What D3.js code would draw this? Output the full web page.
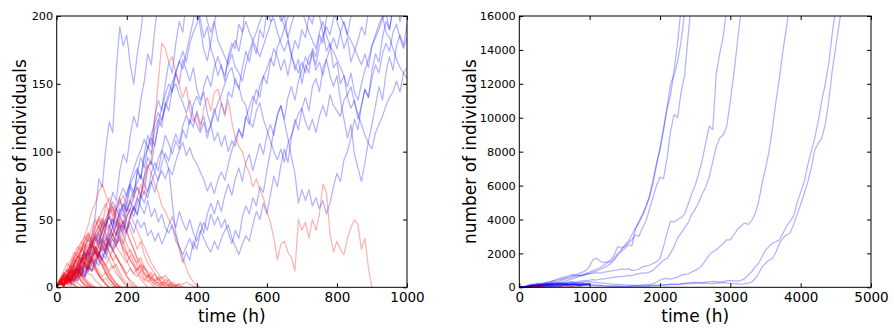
<!DOCTYPE html>
<html><head><meta charset="utf-8">
<script src="https://cdn.jsdelivr.net/npm/d3@7"></script>
<style>body{margin:0;background:#fff} svg{display:block}</style>
</head><body>
<svg id="c" width="894" height="329"></svg>
<script>
// ---------- DATA ----------
// Left panel: samples every 10 h (value = number of individuals)
const stepShort = 10;
// surviving lineages (blue)
const blue1 = [1,5,3,9,6,14,11,20,28,23,38,52,80,74,102,122,114,160,192,178,186,164,150,172,188,210,236,250];
const blue2 = [1,4,2,8,5,13,9,18,25,20,31,38,33,48,42,58,70,64,86,98,92,112,126,118,138,152,172,164,190,212,236];
const blue3 = [1,3,2,6,4,9,13,8,16,12,20,27,22,31,26,36,45,38,52,47,60,74,66,86,80,98,112,104,126,138,130,150,166,158,180,196,188,212,230,220,206,198,184,192,176,168,156,164,152,170,180,176,194,188,210,232,250];
const blue4 = [1,4,2,7,4,10,7,14,19,13,24, 30,24,36,30,42,50,44,58,52,64, 76,70,84,96,88,104,98,116,124,118, 136,130,146,158,150,168,160,152,162,146, 138,144,128,120,132,122,136,128,144,140, 154,146,162,174,166,180,172,190,184,204, 214,222,206,196,200,184,172,160,168,150, 164,158,176,170,186,180,198,212,206,196, 188,176,184,166,174,182,192,186,204,220, 232,244];
const blue5 = [1,3,1,5,3,8,5,11,8,15,12, 20,16,25,21,30,36,30,40,46,40, 52,60,54,68,76,70,84,92,86,100, 112,106,98,108,102,116,110,124,118,130, 120,126,114,120,108,114,104,112,100,108, 104,116,110,126,120,136,146,140,156,150, 166,176,170,160,168,156,170,182,176,190, 184,200,194,210,200,188,174,180,162,166, 150,156,140,132,138,124,134,146,140,154, 164,158,172,180,174,188,194,184,176,184];
const blue6 = [1,4,2,7,4,10,14,9,18,14,22, 28,22,34,28,38,44,38,48,42,52, 58,52,62,68,62,72,78,70,80,86, 80,88,62,40,28,18,26,20,34,28, 40,48,42,54,46,52,44,50,40,32, 42,36,52,60,54,66,60,74,70,86, 100,116,126,134,122,110,96,84,62,72, 64,72,60,66,58,64,54,62,74,84, 78,94,100,110,124,116,134,146,140,160, 172,166,184,196,190,206,214,222,232,242];
const blue7 = [1,3,1,5,8,4,10,14,9,16,20, 15,24,20,28,34,26,32,38,32,42, 48,40,50,44,48,38,42,34,40,32, 38,46,52,44,56,48,42,50,40,34, 42,36,30,26,34,28,36,42,46,36, 30,24,32,38,34,46,56,50,62,54, 68,82,74,90,102,92,110,124,116,132, 140,130,148,154,144,162,168,156,148,156, 138,124,110,120,98,88,78,92,108,120, 134,148,138,158,170,160,178,186,178,194];
const blue8 = [1,5,3,9,13,8,16,22,17,28,24, 34,40,32,46,52,44,58,52,62,56, 64,56,66,60,54,64,52,58,48,54, 44,40,46,34,30,24,30,36,28,40, 48,40,54,62,54,64,56,68,76,68, 80,88,78,92,98,86,96,106,98,112, 120,112,128,134,124,140,148,138,152,160, 170,164,172,160,166,156,168,176,184,176, 188,196,186,200,214,206,222,234,242,252];
const blue9 = [1,4,8,4,11,16,11,21,26,20,31, 37,31,42,47,52,45,58,64,56,70, 76,82,88,80,96,102,110,104,122,132, 142,150,144,158,166,174,166,180,188,194, 202,210,196,188,196,182,176,170,164,172, 162,158,152,164,174,182,188,196,202,208, 196,198,188,180,174,182,170,164,158,166, 158,170,174,164,178,186,192,186,198,206, 200,194,186,182,176,170,164,172,162,178, 184,190,198,202,190,206,212,196,206,214];
const blue10 = [1,3,1,4,7,4,9,13,8,16,12, 20,26,20,30,36,29,40,46,40,52, 58,66,74,68,82,96,90,106,118,124, 132,140,146,150,142,136,128,138,126,120, 114,122,110,120,128,136,142,150,158,162, 150,148,138,134,122,118,130,136,124,116, 108,100,94,102,92,106,112,120,128,132, 122,116,124,114,126,134,126,142,134,130, 126,138,142,148,136,128,120,112,106,102, 114,120,126,134,140,144,152,144,158,162];
const blue11 = [1,4,2,6,9,5,12,15,11,18,22, 17,25,29,24,34,39,33,43,49,43, 53,59,53,65,71,66,77,85,79,91, 99,93,105,113,106,119,127,120,135,141, 134,148,156,148,162,170,162,156,168,176, 182,174,188,196,188,182,176,170,178,186, 194,202,210,200,192,184,194,202,214,204, 196,188,182,176,188,196,186,178,174,168, 162,156,148,158,144,138,150,160,168,178, 186,194,200,188,184,176,168,162,158,154];
const blue12 = [1,5,9,13,9,17,23,18,29,35,29,39,45,51,45,56,63,57,67,73,67,79,87,95,101,109,103,113,121,129,123,135,143,151,159,167,161,173,185,197,211,191,175,167,181,195,207,219,232];
const blue13 = [1,3,6,9,5,12,16,11,20,25,31, 26,35,41,35,45,51,46,56,61,56, 65,71,77,83,76,89,93,85,95,101, 95,87,83,93,101,107,97,103,95,91, 85,79,71,77,69,79,85,79,91,101, 109,117,111,125,133,141,135,149,155,161, 169,163,177,183,191,199,207,215,227,239];

// extinct lineages (red)
const red1 = [1,4,2,7,5,10,8,14,18,14,22,19,27,32,26,36,40,34,44,48,42,52,58,66,76,68,88,94,124,152,180,176,166,170,158,148,140,148,130,122,128,116,132,140,130,144,146,136,126,138,122,110,104,100,90,84,74,80,72,66,56,48,36,20,32,34,26,22,12,50,42,48,36,50,42,54,76,70,40,26,34,28,24,36,44,50,46,28,36,14,0];
const red2 = [1,3,6,3,8,12,8,14,19,15,23,27,22,31,36,30,40,45,50,44,56,62,68,74,66,82,90,84,76,70,60,56,50,44,38,30,22,14,8,4,2,0];
const red3 = [1,4,2,7,5,10,14,9,18,24,30,36,30,42,50,58,52,62,66,56,48,42,36,28,34,24,18,14,10,5,3,0];
const red4 = [1,3,6,2,9,6,14,19,24,18,28,34,42,50,44,54,58,50,44,38,32,26,22,18,22,14,12,8,4,7,3,2,1,0];
const red5 = [1,3,1,6,3,9,13,8,15,21,16,24,30,26,34,40,35,30,26,22,18,24,18,13,17,11,7,11,5,3,1,4,2,1,0];
const red6 = [1,5,10,7,14,20,16,26,32,28,38,46,52,46,60,66,58,52,46,38,42,34,28,20,14,9,5,2,0];
const red7 = [1,4,2,7,11,8,15,20,26,22,32,40,46,40,50,44,38,32,36,26,20,14,10,14,8,5,9,4,2,1,3,6,3,2,1,2,0];
const red8 = [1,6,3,10,16,22,18,28,34,40,34,44,50,44,40,32,28,22,18,12,8,5,3,0];
const red9 = [1,4,2,8,5,12,18,14,22,26,20,30,24,20,16,12,16,10,7,4,2,0];
const red10 = [1,5,2,9,14,10,18,14,16,10,9,5,3,0];
const red11 = [1,3,1,4,2,6,8,4,2,1,0];
const red12 = [1,4,7,3,10,14,10,18,22,16,12,15,9,6,3,0];
const red13 = [1,6,3,10,16,22,26,20,30,36,32,26,20,16,10,7,3,0];
const red14 = [1,3,1,5,3,2,0];
const red15 = [1,5,2,8,12,8,14,10,7,4,2,0];
const red16 = [1,4,2,7,4,10,14,18,22,17,26,30,25,21,16,22,28,32,35,28,24,20,16,12,16,10,8,5,2,4,2,1,2,0];
const red17 = [1,3,1,4,6,9,5,11,14,18,22,26,31,36,42,46,38,48,54,46,40,34,28,22,18,14,10,6,4,2,0];
const red18 = [1,6,11,8,18,24,30,26,38,46,56,62,70,76,68,62,54,48,40,34,26,20,16,10,6,3,0];
const red19 = [1,3,6,9,5,2,6,10,7,12,16,12,9,5,7,3,1,0];
const red20 = [1,3,1,0];
const red21 = [1,5,2,6,3,1,0];
const red22 = [1,3,7,4,10,8,13,18,22,26,20,16,12,8,11,6,3,1,0];
const red23 = [1,5,9,6,12,17,22,28,34,40,34,44,50,56,62,54,48,42,36,30,24,28,22,16,12,16,10,7,10,5,8,3,6,2,1,3,2,4,2,1,0];
const red24 = [1,3,6,4,9,13,10,16,22,28,34,28,40,46,38,32,28,22,18,14,10,14,10,8,12,6,4,7,5,8,4,3,1,4,2,1,0];
const red25 = [1,4,8,13,9,18,26,32,38,34,44,50,44,38,32,26,20,14,8,4,0];
const red26 = [1,3,6,3,7,5,10,15,11,17,22,26,21,17,12,9,5,2,0];
const red27 = [1,4,6,2,5,7,3,1,0];
const red28 = [1,5,3,8,12,9,15,19,24,28,32,27,22,18,14,10,6,3,1,0];
const red29 = [1,3,2,7,11,16,20,15,24,28,33,37,41,46,50,56,60,53,62,68,60,54,48,42,36,30,24,18,14,10,6,9,5,2,1,0];
const red30 = [1,4,7,3,1,6,9,5,2,0];
const red31 = [1,6,10,6,13,17,12,8,5,2,0];
const red32 = [1,3,6,9,14,18,22,27,30,25,19,14,9,5,2,0];
const red33 = [1,4,8,12,16,10,14,8,4,2,0];
const red34 = [1,3,7,10,6,12,17,21,16,12,18,22,26,20,16,11,7,3,0];
const red35 = [1,2,5,9,13,18,23,19,27,32,28,24,30,36,31,26,20,24,18,14,8,4,1,0];
const red36 = [1,5,8,4,7,11,15,10,6,3,1,0];
const red37 = [1,4,9,14,20,26,22,30,24,18,20,14,10,6,2,0];
const red38 = [1,3,6,10,7,13,9,5,1,0];
const red39 = [1,4,2,7,10,14,19,24,20,28,34,40,36,30,25,20,14,17,11,6,4,2,0];
const red40 = [1,6,12,18,14,22,28,34,30,38,34,26,20,16,10,6,3,0];

const blueShort = [blue1,blue2,blue3,blue4,blue5,blue6,blue7,blue8,blue9,blue10,blue11,blue12,blue13];
const redShort = [red1,red2,red3,red4,red5,red6,red7,red8,red9,red10,red11,red12,red13,red14,red15,red16,
  red17,red18,red19,red20,red21,red22,red23,red24,red25,red26,red27,red28,red29,red30,red31,red32,
  red33,red34,red35,red36,red37,red38,red39,red40];

// Right panel: long runs, samples every 50 h
const stepLong = 50;
const long1 = [1,20,60,90,120,150,130,170,200,230, 250,280,320,360,420,500,560,640,700,760, 820,900,960,1050,1150,1250,1400,1600,1900,2100, 2300,2500,2450,3400,3900,4300,4800,5300,6100,7200, 8200,9400,10500,11300,12800,14400,16500];
const long2 = [1,30,80,140,180,220,200,260,300,350, 420,500,560,620,680,750,740,820,900,1000, 1250,1650,1700,1550,1450,1500,1600,1900,2400,2300, 2400,2600,2800,3100,3000,3500,3900,4600,5300,6000, 6500,6400,7600,9200,10200,10000,11500,12500,14800,17000];
const long3 = [1,15,40,70,100,140,180,150,200,260, 300,340,420,480,520,600,640,700,680,760, 800,820,860,840,880,920,950,1000,1020,1080, 1050,1100,1000,1020,1080,1200,1250,1300,1400,1500, 1700,2400,3200,3900,3850,4000,4100,4300,4900,5500, 6000,6700,7500,8500,9500,9300,12600,13800,14800,16500];
const long4 = [1,10,30,50,80,100,90,120,140,180, 200,220,250,280,300,330,310,350,380,400, 420,450,430,480,500,520,560,600,620,640, 660,700,680,760,800,850,830,900,1000,1200, 1400,1600,1700,2000,2400,2900,3200,3500,3800,4300, 4600,5000,5500,5900,6500,7400,8300,8800,9000,9500, 11000,12600,14400,16200];
const long5 = [1,20,50,80,110,90,130,170,200,240, 260,230,200,180,160,170,150,130,140,120, 110,100,90,100,80,70,60,70,80,60, 50,60,80,100,120,150,170,160,200,300, 420,500,520,480,540,600,700,760,780,900, 1000,1100,1300,1600,1900,2100,2200,2400,2600,2800, 2800,3100,3400,3600,3800,3700,3900,4300,5000,6100, 7000,8000,9400,11000,12400,14000,15400,16800];
const long6 = [1,15,40,60,90,120,150,180,200,210, 220,240,260,240,280,300,270,250,230,200, 180,160,140,120,100,90,80,70,60,50, 40,50,60,50,40,50,60,70,80,100, 120,140,160,200,180,160,200,240,260,280, 300,280,260,300,320,350,330,300,330,380, 400,380,360,400,500,700,900,1200,1400,1800, 2200,2400,2600,2700,2800,3200,3600,3900,4200,5000, 5600,6200,7200,8000,8800,9800,11000,12000,13200,15000, 16500];
const long7 = [1,10,25,40,60,80,100,90,120,140, 160,180,200,220,210,240,260,280,300,320, 340,300,280,260,240,220,200,180,170,160, 150,140,130,120,110,100,90,100,110,120, 130,140,150,160,170,180,190,200,210,220, 230,240,260,250,230,220,240,260,280,250, 230,220,200,180,200,240,300,500,800,1200, 1400,1600,1700,2100,2600,2900,3100,3200,3700,4300, 4900,5500,6200,7000,8100,8500,8800,9600,11000,12800, 14200,15600,17000];
const long8 = [1,25,70,110,150,180,210,250,290,330, 380,430,480,540,600,680,720,700,760,820, 900,980,1050,1150,1300,1450,1500,1700,2000,2200, 2500,2700,3100,3500,3800,4200,4700,5400,6300,7300, 8100,9200,10600,12000,12500,13300,14500,16200];
const longRuns = [long1,long2,long3,long4,long5,long6,long7,long8];

const xTicksLeft = [0,200,400,600,800,1000];
const yTicksLeft = [0,50,100,150,200];
const xTicksRight = [0,1000,2000,3000,4000,5000];
const yTicksRight = [0,2000,4000,6000,8000,10000,12000,14000,16000];
const xLabel = "time (h)";
const yLabel = "number of individuals";

// ---------- DRAW ----------
const svg = d3.select("#c");
const FONT = "DejaVu Sans, Liberation Sans, sans-serif";
const BLUE = "#0000ff", RED = "#ff0000", ALPHA = 0.3;

function panel(id, box, xDomain, yDomain, xTicks, yTicks, layers, yLabelX) {
  const x = d3.scaleLinear().domain(xDomain).range([box.x0, box.x1]);
  const y = d3.scaleLinear().domain(yDomain).range([box.y1, box.y0]);
  svg.append("clipPath").attr("id", id).append("rect")
    .attr("x", box.x0).attr("y", box.y0).attr("width", box.x1 - box.x0).attr("height", box.y1 - box.y0);
  const g = svg.append("g").attr("clip-path", `url(#${id})`);
  layers.forEach(L => {
    const line = d3.line().x((d, i) => x(i * L.step)).y(d => y(d));
    g.selectAll(null).data(L.data).enter().append("path")
      .attr("d", line).attr("fill", "none")
      .attr("stroke", L.color).attr("stroke-opacity", ALPHA).attr("stroke-width", 1.25)
      .attr("stroke-linejoin", "round");
  });
  const ax = svg.append("g").attr("transform", `translate(0,${box.y1})`)
    .call(d3.axisBottom(x).tickValues(xTicks).tickFormat(d3.format("d")).tickSizeInner(-4).tickSizeOuter(0).tickPadding(5));
  ax.selectAll("text").attr("font-size", 13.5).attr("font-family", FONT).attr("fill", "#000");
  const axt = svg.append("g").attr("transform", `translate(0,${box.y0})`)
    .call(d3.axisTop(x).tickValues(xTicks).tickFormat("").tickSizeInner(-4).tickSizeOuter(0));
  const ay = svg.append("g").attr("transform", `translate(${box.x0},0)`)
    .call(d3.axisLeft(y).tickValues(yTicks).tickFormat(d3.format("d")).tickSizeInner(-4).tickSizeOuter(0).tickPadding(3.5));
  ay.selectAll("text").attr("font-size", 11.3).attr("font-family", FONT).attr("fill", "#000");
  const ayr = svg.append("g").attr("transform", `translate(${box.x1},0)`)
    .call(d3.axisRight(y).tickValues(yTicks).tickFormat("").tickSizeInner(-4).tickSizeOuter(0));
  [ax, axt, ay, ayr].forEach(a => { a.select(".domain").remove(); a.selectAll("line").attr("stroke", "#000"); });
  svg.append("rect").attr("x", box.x0).attr("y", box.y0)
    .attr("width", box.x1 - box.x0).attr("height", box.y1 - box.y0)
    .attr("fill", "none").attr("stroke", "#000").attr("stroke-width", 1);
  svg.append("text").attr("x", (box.x0 + box.x1) / 2).attr("y", 322)
    .attr("text-anchor", "middle").attr("font-size", 17).attr("font-family", FONT).text(xLabel);
  svg.append("text").attr("transform", `translate(${yLabelX},${(box.y0 + box.y1) / 2}) rotate(-90)`)
    .attr("text-anchor", "middle").attr("font-size", 17).attr("font-family", FONT).text(yLabel);
}

panel("clipL", {x0: 56.7, x1: 407, y0: 16, y1: 287.3}, [0, 1000], [0, 200], xTicksLeft, yTicksLeft,
  [{data: blueShort, step: stepShort, color: BLUE}, {data: redShort, step: stepShort, color: RED}], 26);

panel("clipR", {x0: 519.3, x1: 871, y0: 16, y1: 287.3}, [0, 5000], [0, 16000], xTicksRight, yTicksRight,
  [{data: blueShort, step: stepShort, color: BLUE}, {data: redShort, step: stepShort, color: RED},
   {data: longRuns, step: stepLong, color: BLUE}], 476);
</script>
</body></html>
